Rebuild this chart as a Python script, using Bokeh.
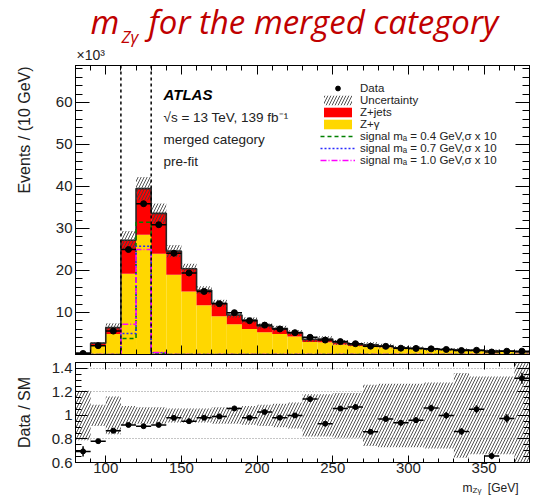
import math
from bokeh.plotting import figure
from bokeh.models import (ColumnDataSource, Range1d, FixedTicker, LinearAxis, Label,
                          Legend, LegendItem, Span, Grid)
from bokeh.layouts import column
from bokeh.embed import file_html
from bokeh.resources import INLINE

# ---------------- data (events in units of 10^3) ----------------
bin_lo = [80, 90, 100, 110, 120, 130, 140, 150, 160, 170, 180, 190, 200, 210, 220,
          230, 240, 250, 260, 270, 280, 290, 300, 310, 320, 330, 340, 350, 360, 370]
BIN_W = 10
z_gamma = [0.30, 2.2, 4.9, 19.2, 28.5, 24.0, 19.0, 15.0, 11.7, 9.1, 7.2, 6.1, 5.3, 4.9, 4.3,
           3.0, 2.9, 2.4, 2.0, 2.0, 1.75, 1.4, 1.3, 1.1, 1.05, 0.95, 0.83, 0.78, 0.70, 0.52]
z_jets = [0.06, 0.5, 1.5, 8.0, 11.0, 9.6, 5.6, 5.4, 3.6, 3.1, 2.2, 2.1, 1.5, 1.3, 0.9,
          0.6, 0.8, 0.5, 0.4, 0.3, 0.25, 0.2, 0.2, 0.17, 0.15, 0.15, 0.12, 0.12, 0.10, 0.08]
data = [0.25, 2.11, 5.57, 25.0, 35.9, 30.9, 24.1, 19.4, 15.0, 12.1, 9.96, 8.04, 7.00, 6.08, 5.20,
        4.10, 3.44, 3.07, 2.57, 1.98, 1.94, 1.50, 1.44, 1.35, 1.20, 0.95, 1.00, 0.59, 0.78, 0.79]
unc_rel = [0.21, 0.09, 0.16, 0.08, 0.07, 0.07, 0.06, 0.06, 0.06, 0.07, 0.07, 0.08, 0.09, 0.10, 0.11,
           0.18, 0.18, 0.19, 0.19, 0.26, 0.27, 0.27, 0.27, 0.28, 0.28, 0.36, 0.33, 0.33, 0.33, 0.50]
sig_04 = [0, 0, 0, 3.8, 31.5, 0.3, 0, 0, 0, 0, 0, 0, 0, 0, 0,
          0, 0, 0, 0, 0, 0, 0, 0, 0, 0, 0, 0, 0, 0, 0]
sig_07 = [0, 0, 0, 5.0, 25.8, 0.4, 0, 0, 0, 0, 0, 0, 0, 0, 0,
          0, 0, 0, 0, 0, 0, 0, 0, 0, 0, 0, 0, 0, 0, 0]
sig_10 = [0, 0, 0, 7.2, 25.0, 0.5, 0, 0, 0, 0, 0, 0, 0, 0, 0,
          0, 0, 0, 0, 0, 0, 0, 0, 0, 0, 0, 0, 0, 0, 0]
window_lines = [110, 130]

x_major = [100, 150, 200, 250, 300, 350]
y_major = [10, 20, 30, 40, 50, 60]
r_major = [0.6, 0.8, 1, 1.2, 1.4]
r_grid = [0.8, 1, 1.2, 1.4]

legend_labels = ["Data", "Uncertainty", "Z+jets", "Z+\u03b3",
                 "signal m\u2090 = 0.4 GeV,\u03c3 x 10",
                 "signal m\u2090 = 0.7 GeV,\u03c3 x 10",
                 "signal m\u2090 = 1.0 GeV,\u03c3 x 10"]

# ---------------- derived ----------------
FONT = "Liberation Sans"
TXT = "#222222"
HATCH = dict(hatch_pattern="/", hatch_color="#404040", hatch_scale=6, hatch_weight=0.9)
BL, BR = 75, 6          # left / right borders shared by every row of the column
rights = [b + BIN_W for b in bin_lo]
centers = [b + BIN_W / 2 for b in bin_lo]
edges = bin_lo + [rights[-1]]
total = [g + j for g, j in zip(z_gamma, z_jets)]
data_err = [math.sqrt(d * 1000) / 1000 for d in data]
ratio = [d / t for d, t in zip(data, total)]
ratio_err = [e / t for e, t in zip(data_err, total)]

src = ColumnDataSource(dict(
    left=bin_lo, right=rights, center=centers, zg=z_gamma, tot=total,
    zero=[0] * len(bin_lo),
    unc_lo=[t * (1 - u) for t, u in zip(total, unc_rel)],
    unc_hi=[t * (1 + u) for t, u in zip(total, unc_rel)],
    d=data, d_lo=[d - e for d, e in zip(data, data_err)], d_hi=[d + e for d, e in zip(data, data_err)],
    r=ratio, r_lo=[r - e for r, e in zip(ratio, ratio_err)], r_hi=[r + e for r, e in zip(ratio, ratio_err)],
    band_lo=[1 - u for u in unc_rel], band_hi=[1 + u for u in unc_rel],
))


def add_axis(fig, side, ticks, minor, major_len, minor_len, labels, overrides=None, standoff=3):
    ax = LinearAxis(ticker=FixedTicker(ticks=ticks, minor_ticks=minor))
    ax.major_tick_in = major_len
    ax.major_tick_out = 0
    ax.minor_tick_in = minor_len
    ax.minor_tick_out = 0
    ax.axis_line_color = "black"
    ax.major_tick_line_color = "black"
    ax.minor_tick_line_color = "black"
    if labels:
        ax.major_label_text_font = FONT
        ax.major_label_text_font_size = "15px"
        ax.major_label_text_color = TXT
        ax.major_label_standoff = standoff
        if overrides:
            ax.major_label_overrides = overrides
    else:
        ax.major_label_text_font_size = "0px"
        ax.major_label_text_color = None
        ax.major_label_standoff = 0
    fig.add_layout(ax, side)
    return ax


def lab(fig, x, y, text, size, color=TXT, font=FONT, style="normal", align="left"):
    # x, y: frame-relative screen pixels of the text baseline start
    fig.add_layout(Label(x=x, y=y + 0.42 * size, x_units="screen", y_units="screen", text=text,
                         text_font=font, text_font_size=f"{size}px", text_color=color,
                         text_font_style=style, text_align=align,
                         text_baseline="alphabetic"))


def strip(h):
    f = figure(width=BL + 454 + BR, height=h, min_border_left=BL, min_border_right=BR,
               min_border_top=0, min_border_bottom=0,
               x_range=Range1d(0, 1), y_range=Range1d(0, 1),
               x_axis_type=None, y_axis_type=None, output_backend="svg", toolbar_location=None)
    f.outline_line_color = None
    return f


x_minor = list(range(80, 381, 10))
x_range = Range1d(80, 380)

# ---------------- header strip (title, multiplier) ----------------
HEAD_H = 64
head = strip(HEAD_H)
TITLE = dict(color="#c00000", font="Open Sans", style="italic")
lab(head, 90 - BL, HEAD_H - 35, "m", 33, **TITLE)
lab(head, 121 - BL, HEAD_H - 43, "Z\u03b3", 17, **TITLE)
lab(head, 148 - BL, HEAD_H - 35, "for the merged category", 33, **TITLE)
lab(head, 1, HEAD_H - 60.5, "\u00d710\u00b3", 14)

# ---------------- top panel ----------------
top = figure(frame_width=454, frame_height=289, min_border_left=BL, min_border_right=BR,
             min_border_top=1, min_border_bottom=4,
             x_range=x_range, y_range=Range1d(0, 68.8),
             x_axis_type=None, y_axis_type=None,
             output_backend="svg", toolbar_location=None)
top.outline_line_color = "black"

r_zg = top.quad(left="left", right="right", bottom="zero", top="zg", source=src,
                fill_color="#ffd700", line_color=None)
r_zj = top.quad(left="left", right="right", bottom="zg", top="tot", source=src,
                fill_color="#ff0000", line_color=None)
top.step(x=edges, y=total + [total[-1]], mode="after", line_color="#262626", line_width=1.6)
r_unc = top.quad(left="left", right="right", bottom="unc_lo", top="unc_hi", source=src,
                 fill_alpha=0, line_color=None, **HATCH)

s04 = top.step(x=edges, y=sig_04 + [sig_04[-1]], mode="after", line_color="#008000",
               line_width=1.5, line_dash="4 3")
s07 = top.step(x=edges, y=sig_07 + [sig_07[-1]], mode="after", line_color="#2a2aff",
               line_width=1.5, line_dash="2 2")
s10 = top.step(x=edges, y=sig_10 + [sig_10[-1]], mode="after", line_color="#ff00ff",
               line_width=1.5, line_dash="6 2 1 2")

top.segment(x0="left", x1="right", y0="d", y1="d", source=src, line_color="black", line_width=1.5)
top.segment(x0="center", x1="center", y0="d_lo", y1="d_hi", source=src, line_color="black", line_width=1.5)
r_data = top.scatter(x="center", y="d", source=src, size=6, marker="circle",
                     fill_color="black", line_color="black")

for xl in window_lines:
    top.add_layout(Span(location=xl, dimension="height", line_color="black",
                        line_width=1.5, line_dash="3 3"))

add_axis(top, "below", x_major, x_minor, 9, 5, False)
add_axis(top, "above", x_major, x_minor, 9, 5, False)
yl = add_axis(top, "left", y_major, list(range(0, 69, 2)), 14, 7, True)
# leading no-break spaces lift the centred title towards the top of the axis (ROOT style)
yl.axis_label = "\u00a0" * 36 + "Events / (10 GeV)"
yl.axis_label_text_font = FONT
yl.axis_label_text_font_size = "16px"
yl.axis_label_text_font_style = "normal"
yl.axis_label_text_color = TXT
yl.axis_label_standoff = 20
add_axis(top, "right", y_major, list(range(0, 69, 2)), 14, 7, False)

legend = Legend(items=[
    LegendItem(label=legend_labels[0], renderers=[r_data]),
    LegendItem(label=legend_labels[1], renderers=[r_unc]),
    LegendItem(label=legend_labels[2], renderers=[r_zj]),
    LegendItem(label=legend_labels[3], renderers=[r_zg]),
    LegendItem(label=legend_labels[4], renderers=[s04]),
    LegendItem(label=legend_labels[5], renderers=[s07]),
    LegendItem(label=legend_labels[6], renderers=[s10]),
], location=(245, 188), orientation="vertical")
legend.padding = 0
legend.margin = 0
legend.spacing = 0
legend.glyph_width = 35
legend.glyph_height = 12
legend.label_height = 12
legend.label_standoff = 5
legend.label_text_font = FONT
legend.label_text_font_size = "11.5px"
legend.label_text_color = TXT
legend.border_line_color = None
legend.background_fill_alpha = 0
top.add_layout(legend)

lab(top, 88, 254, "ATLAS", 15, style="bold italic", color="black")
lab(top, 88, 231, "\u221as = 13 TeV, 139 fb\u207b\u00b9", 13.5)
lab(top, 88, 209, "merged category", 13.5)
lab(top, 88, 187, "pre-fit", 13.5)

# ---------------- ratio panel ----------------
bot = figure(frame_width=454, frame_height=100, min_border_left=BL, min_border_right=BR,
             min_border_top=4, min_border_bottom=19,
             x_range=x_range, y_range=Range1d(0.6, 1.45),
             x_axis_type=None, y_axis_type=None,
             output_backend="svg", toolbar_location=None)
bot.outline_line_color = "black"
bot.add_layout(Grid(dimension=1, ticker=FixedTicker(ticks=r_grid),
                    grid_line_color="#8c8c8c", grid_line_dash="1 2", grid_line_width=1))
bot.quad(left="left", right="right", bottom="band_lo", top="band_hi", source=src,
         fill_alpha=0, line_color=None, **HATCH)
bot.segment(x0="left", x1="right", y0="r", y1="r", source=src, line_color="black", line_width=1.5)
bot.segment(x0="center", x1="center", y0="r_lo", y1="r_hi", source=src, line_color="black", line_width=1.5)
bot.scatter(x="center", y="r", source=src, size=5, marker="circle", fill_color="black", line_color="black")

add_axis(bot, "below", x_major, x_minor, 7, 4, True, standoff=0)
add_axis(bot, "above", x_major, x_minor, 7, 4, False)
r_minor = [round(0.6 + 0.05 * i, 2) for i in range(18)]
ry = add_axis(bot, "left", r_major, r_minor, 12, 6, True, overrides={1: "1"})
ry.axis_label = "Data / SM"
ry.axis_label_text_font = FONT
ry.axis_label_text_font_size = "16px"
ry.axis_label_text_font_style = "normal"
ry.axis_label_text_color = TXT
ry.axis_label_standoff = 16
add_axis(bot, "right", r_major, r_minor, 12, 6, False)

# ---------------- x-axis title strip ----------------
FOOT_H = 14
foot = strip(FOOT_H)
lab(foot, 462 - BL, 2.6, "m", 12)
lab(foot, 472 - BL, 2.0, "Z\u03b3", 8)
lab(foot, 518 - BL, 2.6, "[GeV]", 12, align="right")

layout = column(head, top, bot, foot, spacing=0)
open("out.html", "w").write(file_html(layout, INLINE))
